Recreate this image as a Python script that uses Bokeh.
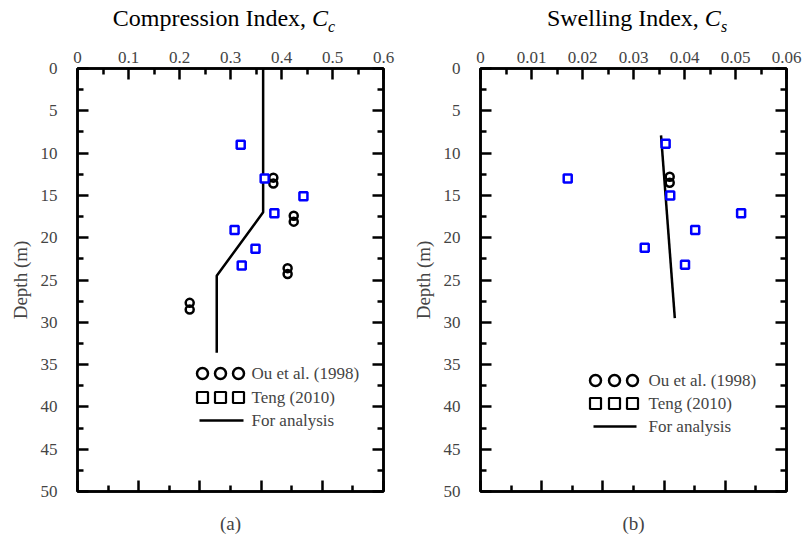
from bokeh.plotting import figure
from bokeh.layouts import row, column
from bokeh.models import Range1d, LinearAxis, FixedTicker, Label, Div
from bokeh.embed import file_html
from bokeh.resources import INLINE

# ---------------- data ----------------
# Panel (a): compression index Cc
cc_teng_x = [0.320, 0.367, 0.443, 0.386, 0.308, 0.349, 0.322]
cc_teng_d = [9.0, 13.0, 15.1, 17.1, 19.1, 21.3, 23.3]
cc_ou_x = [0.384, 0.384, 0.424, 0.424, 0.412, 0.412, 0.220, 0.220]
cc_ou_d = [12.9, 13.6, 17.4, 18.1, 23.6, 24.3, 27.7, 28.5]
cc_line_x = [0.364, 0.364, 0.273, 0.273]
cc_line_d = [0.0, 17.0, 24.5, 33.6]

# Panel (b): swelling index Cs
cs_teng_x = [0.0363, 0.0171, 0.0372, 0.0511, 0.0421, 0.0322, 0.0401]
cs_teng_d = [8.9, 13.0, 15.0, 17.1, 19.1, 21.2, 23.2]
cs_ou_x = [0.0371, 0.0371]
cs_ou_d = [12.8, 13.5]
cs_line_x = [0.0354, 0.0381]
cs_line_d = [7.9, 29.5]

cc_top_ticks = [0, 0.1, 0.2, 0.3, 0.4, 0.5, 0.6]
cs_top_ticks = [0, 0.01, 0.02, 0.03, 0.04, 0.05, 0.06]
depth_ticks = [0, 5, 10, 15, 20, 25, 30, 35, 40, 45, 50]

legend_labels = ["Ou et al. (1998)", "Teng (2010)", "For analysis"]
titles = [("Compression Index, ", "C", "c"), ("Swelling Index, ", "C", "s")]

FONT = "Liberation Serif"
FW, FH = 306, 423
TOP = 68          # frame top on the page
DIV_H = 40        # height of title strip
PANEL_W = 402
PX_PER_DEPTH = FH / 50.0


def style_axis(ax, labels=True):
    ax.major_tick_in = 11
    ax.major_tick_out = 0
    ax.minor_tick_in = 6
    ax.minor_tick_out = 0
    ax.axis_line_width = 2.5
    ax.major_tick_line_width = 2.5
    ax.minor_tick_line_width = 2.5
    ax.major_label_text_font = FONT
    if not labels:
        ax.major_label_text_font_size = "0px"
        ax.major_label_standoff = 0


def make_title(parts, center_px):
    main, sym, sub = parts
    shift = center_px - PANEL_W // 2
    html = (f'<div style="margin:0; padding:5px 0 0 0; position:relative; '
            f'left:{shift}px; width:{PANEL_W}px; text-align:center; '
            f'font-family:\'{FONT}\'; font-size:24px; line-height:26px; '
            f'white-space:nowrap; color:black;">{main}'
            f'<i>{sym}<sub style="font-size:16px; line-height:0;">{sub}</sub></i></div>')
    return Div(text=html, width=PANEL_W, height=DIV_H, margin=(0, 0, 0, 0))


def make_panel(xmax, top_ticks, border_left, page_off, sub_label, data, legend_px):
    border_right = PANEL_W - border_left - FW
    p = figure(width=PANEL_W, height=545 - DIV_H,
               frame_width=FW, frame_height=FH,
               min_border_left=border_left, min_border_right=border_right,
               min_border_top=TOP - DIV_H, min_border_bottom=545 - TOP - FH,
               x_range=Range1d(0, xmax), y_range=Range1d(50, 0),
               x_axis_location=None, y_axis_location=None,
               toolbar_location=None, output_backend="svg",
               margin=(0, 0, 0, 0))
    p.background_fill_color = "white"
    p.border_fill_color = "white"
    p.grid.visible = False
    p.outline_line_color = "black"
    p.outline_line_width = 2.5

    xscale = FW / xmax

    def to_x(px):
        return (px - page_off - border_left) / xscale

    def to_d(py):
        return (py - TOP) / PX_PER_DEPTH

    top = LinearAxis(ticker=FixedTicker(ticks=top_ticks, minor_ticks=[
        (a + b) / 2 for a, b in zip(top_ticks[:-1], top_ticks[1:])]))
    style_axis(top)
    top.major_label_text_font_size = "17px"
    top.major_label_standoff = 6
    top.major_label_overrides = {t: ("0" if t == 0 else f"{t:g}") for t in top_ticks}
    p.add_layout(top, "above")

    bt = [xmax * i / 5 for i in range(6)]
    bm = [xmax * (2 * i + 1) / 10 for i in range(5)]
    bottom = LinearAxis(ticker=FixedTicker(ticks=bt, minor_ticks=bm))
    style_axis(bottom, labels=False)
    bottom.axis_label = sub_label
    bottom.axis_label_text_font = FONT
    bottom.axis_label_text_font_style = "normal"
    bottom.axis_label_text_font_size = "19px"
    bottom.axis_label_standoff = 21
    p.add_layout(bottom, "below")

    dminor = [2.5 + 5 * i for i in range(10)]
    left = LinearAxis(ticker=FixedTicker(ticks=depth_ticks, minor_ticks=dminor))
    style_axis(left)
    left.major_label_text_font_size = "17px"
    left.major_label_standoff = 20
    left.axis_label = "Depth (m)"
    left.axis_label_text_font = FONT
    left.axis_label_text_font_style = "normal"
    left.axis_label_text_font_size = "19px"
    left.axis_label_standoff = 7
    p.add_layout(left, "left")

    right = LinearAxis(ticker=FixedTicker(ticks=depth_ticks, minor_ticks=dminor))
    style_axis(right, labels=False)
    p.add_layout(right, "right")

    lx, ld, ox, od, tx, td = data
    p.line(lx, ld, line_color="black", line_width=2.5)
    p.scatter(ox, od, marker="circle", size=8, fill_color=None,
              line_color="black", line_width=2.5)
    p.scatter(tx, td, marker="square", size=8, fill_color="white",
              line_color="#0000FF", line_width=2.5)

    # manual legend
    cx, rows_py, text_px, line_px = legend_px
    for i, lab in enumerate(legend_labels):
        p.add_layout(Label(x=to_x(text_px), y=to_d(rows_py[i]), text=lab,
                           text_font=FONT, text_font_size="17px",
                           text_baseline="middle", text_align="left"))
    p.scatter([to_x(c) for c in cx], [to_d(rows_py[0])] * 3, marker="circle",
              size=11, fill_color=None, line_color="black", line_width=2.5)
    p.scatter([to_x(c) for c in cx], [to_d(rows_py[1])] * 3, marker="square",
              size=11, fill_color=None, line_color="black", line_width=2.2)
    p.line([to_x(line_px[0]), to_x(line_px[1])], [to_d(rows_py[2])] * 2,
           line_color="black", line_width=2.5)
    return p


pa = make_panel(0.6, cc_top_ticks, 77, 0, "(a)",
                (cc_line_x, cc_line_d, cc_ou_x, cc_ou_d, cc_teng_x, cc_teng_d),
                ([202, 220, 238], [373, 397, 420], 251, [199, 243]))
pb = make_panel(0.06, cs_top_ticks, 78, PANEL_W, "(b)",
                (cs_line_x, cs_line_d, cs_ou_x, cs_ou_d, cs_teng_x, cs_teng_d),
                ([595, 614, 632], [380, 403, 426], 648, [593, 636]))

ta = make_title(titles[0], 224)
tb = make_title(titles[1], 637 - PANEL_W)

layout = column(row(ta, tb, spacing=0), row(pa, pb, spacing=0), spacing=0)
open("out.html", "w").write(file_html(layout, INLINE))
